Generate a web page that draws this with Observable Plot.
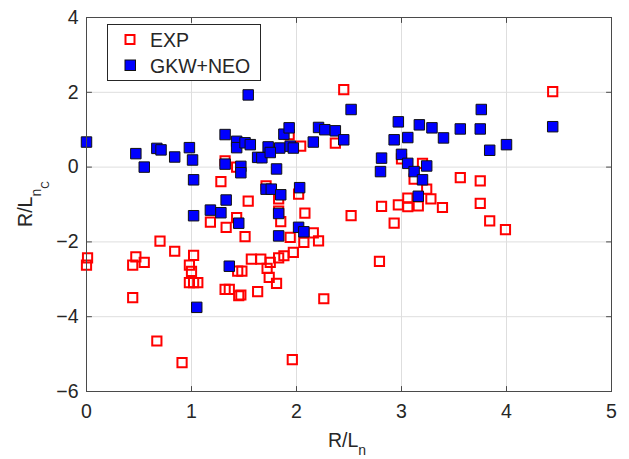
<!DOCTYPE html>
<html><head><meta charset="utf-8">
<script src="https://cdn.jsdelivr.net/npm/d3@7"></script>
<script src="https://cdn.jsdelivr.net/npm/@observablehq/plot@0.6"></script>
<style>body{margin:0;background:#fff;} #chart{width:629px;height:459px;}</style>
</head><body><div id="chart"></div>
<script>
const seriesNames = ["EXP", "GKW+NEO"];
const xTicks = [0, 1, 2, 3, 4, 5];
const yTicks = [-6, -4, -2, 0, 2, 4];

const expX = [0.01,0.00,0.47,0.44,0.55,0.70,0.84,1.02,0.98,1.00,0.98,1.02,1.06,0.44,0.67,0.91,1.32,1.36,1.45,1.44,1.48,1.18,1.33,1.51,1.85,1.94,2.16,2.21,2.07,1.97,1.88,1.83,1.57,1.66,1.75,1.72,1.74,1.81,1.63,1.47,2.26,2.79,1.96,1.32,1.28,1.43,1.43,2.45,1.93,2.04,2.37,1.71,1.54,1.83,2.02,1.83,2.08,2.52,2.81,4.44,3.00,3.20,3.12,3.24,3.56,3.75,2.97,3.06,3.06,3.16,3.28,3.39,3.75,3.84,3.99,2.93];
const expY = [-2.43,-2.62,-2.40,-2.62,-2.55,-1.98,-2.25,-2.36,-2.62,-2.79,-3.09,-3.09,-3.09,-3.49,-4.65,-5.23,-3.27,-3.27,-3.44,-2.78,-2.78,-1.47,-1.61,-1.86,-1.46,-1.88,-1.76,-1.97,-2.01,-2.28,-2.37,-2.43,-2.46,-2.46,-2.55,-2.71,-2.95,-3.11,-3.33,-3.42,-3.52,-2.52,-5.15,0.17,-0.39,0.00,-1.35,2.07,0.87,0.56,0.64,-0.50,-0.91,-0.85,-0.72,-1.18,-1.23,-1.30,-1.05,2.02,0.22,0.10,-0.32,-0.59,-0.28,-0.37,-1.01,-0.83,-1.06,-1.04,-0.85,-1.08,-0.97,-1.44,-1.67,-1.50];

const gkwX = [0.00,0.47,0.55,0.67,0.71,0.84,0.98,1.01,1.02,1.02,1.32,1.32,1.33,1.18,1.28,1.43,1.43,1.51,1.56,1.47,1.47,1.54,2.52,1.88,1.93,1.73,1.84,1.94,1.97,1.63,1.67,1.75,2.21,2.27,2.37,2.16,2.45,1.81,1.71,1.76,1.85,2.03,1.83,1.45,1.83,2.02,2.07,1.36,1.05,2.81,2.80,3.76,4.44,2.97,3.17,3.29,3.56,3.75,3.40,3.06,2.93,3.84,4.00,3.00,3.06,3.12,3.24,3.20,3.16];
const gkwY = [0.67,0.36,0.00,0.50,0.46,0.27,0.52,0.19,-0.34,-1.30,0.87,0.08,-0.88,-1.15,-1.22,0.69,0.52,0.65,0.60,0.02,-0.15,1.93,1.54,0.88,1.05,0.54,0.51,0.56,0.51,0.26,0.25,0.39,1.06,1.00,0.97,0.67,0.73,-0.05,-0.59,-0.59,-0.74,-0.55,-1.24,-1.50,-1.84,-1.61,-1.73,-2.65,-3.75,0.24,-0.12,1.54,1.08,1.21,1.13,1.05,1.02,1.02,0.78,0.79,0.73,0.45,0.60,0.34,0.10,-0.12,0.03,-0.34,-0.78];

const expData = expX.map((x, i) => ({x, y: expY[i]}));
const gkwData = gkwX.map((x, i) => ({x, y: gkwY[i]}));

const AX = "#4a4a4a";
const TXT = "#262626";
const FONT = "'Liberation Sans', Arial, Helvetica, sans-serif";
const FS = 19.5;
const tickShape = {draw(ctx, l) { ctx.moveTo(0, 0); ctx.lineTo(0, -l); }};
const tickOpts = {length: 5, anchor: "start", shape: tickShape, stroke: AX, strokeWidth: 1};

const svg = Plot.plot({
  width: 629, height: 459,
  marginLeft: 86, marginRight: 18, marginTop: 17, marginBottom: 68,
  style: {fontFamily: FONT, fontSize: FS + "px", color: TXT, background: "white", overflow: "visible"},
  x: {domain: [0, 5], ticks: xTicks, label: null},
  y: {domain: [-6, 4], ticks: yTicks, label: null},
  marks: [
    Plot.gridX(xTicks, {stroke: "#dedede", strokeOpacity: 1}),
    Plot.gridY(yTicks, {stroke: "#dedede", strokeOpacity: 1}),
    Plot.dot(expData, {x: "x", y: "y", symbol: "square", r: 5.2, fill: "white", fillOpacity: 0, stroke: "#ff0000", strokeWidth: 2}),
    Plot.dot(gkwData, {x: "x", y: "y", symbol: "square", r: 5.9, fill: "#0000ff", stroke: "#111", strokeWidth: 1}),
    Plot.frame({stroke: AX, strokeWidth: 1}),
    Plot.vector(xTicks, {x: d => d, frameAnchor: "bottom", rotate: 0, ...tickOpts}),
    Plot.vector(xTicks, {x: d => d, frameAnchor: "top", rotate: 180, ...tickOpts}),
    Plot.vector(yTicks, {y: d => d, frameAnchor: "left", rotate: 90, ...tickOpts}),
    Plot.vector(yTicks, {y: d => d, frameAnchor: "right", rotate: 270, ...tickOpts}),
    Plot.axisX(xTicks, {tickSize: 0, tickPadding: 13, label: null, fill: TXT}),
    Plot.axisY(yTicks, {tickSize: 0, tickPadding: 8, label: null, fill: TXT})
  ]
});
document.getElementById("chart").appendChild(svg);

const s = d3.select(svg);
// X axis title
const xt = s.append("text").attr("x", 347).attr("y", 447).attr("text-anchor", "middle")
  .attr("font-family", FONT).attr("font-size", FS).attr("fill", TXT);
xt.append("tspan").text("R/L");
xt.append("tspan").attr("dy", 8).attr("font-size", 14).text("n");

// Y axis title
const yt = s.append("text").attr("transform", "translate(32,204) rotate(-90)").attr("text-anchor", "middle")
  .attr("font-family", FONT).attr("font-size", FS).attr("fill", TXT);
yt.append("tspan").text("R/L");
yt.append("tspan").attr("dy", 9).attr("font-size", 14).text("n");
yt.append("tspan").attr("dy", 8).attr("font-size", 10.5).text("C");

// Legend
const lg = s.append("g").attr("text-anchor", "start");
lg.append("rect").attr("x", 107.5).attr("y", 24.5).attr("width", 153).attr("height", 56)
  .attr("fill", "white").attr("stroke", TXT).attr("stroke-width", 1);
lg.append("rect").attr("x", 125.5).attr("y", 35).attr("width", 9).attr("height", 9)
  .attr("fill", "none").attr("stroke", "#ff0000").attr("stroke-width", 2);
lg.append("rect").attr("x", 125).attr("y", 60).attr("width", 10.5).attr("height", 10.5)
  .attr("fill", "#0000ff").attr("stroke", "#111").attr("stroke-width", 1);
lg.append("text").attr("x", 150).attr("y", 46.5).attr("text-anchor", "start").attr("font-family", FONT).attr("font-size", FS).attr("fill", TXT).text(seriesNames[0]);
lg.append("text").attr("x", 150).attr("y", 72.5).attr("text-anchor", "start").attr("font-family", FONT).attr("font-size", FS).attr("fill", TXT).text(seriesNames[1]);
</script>
</body></html>
